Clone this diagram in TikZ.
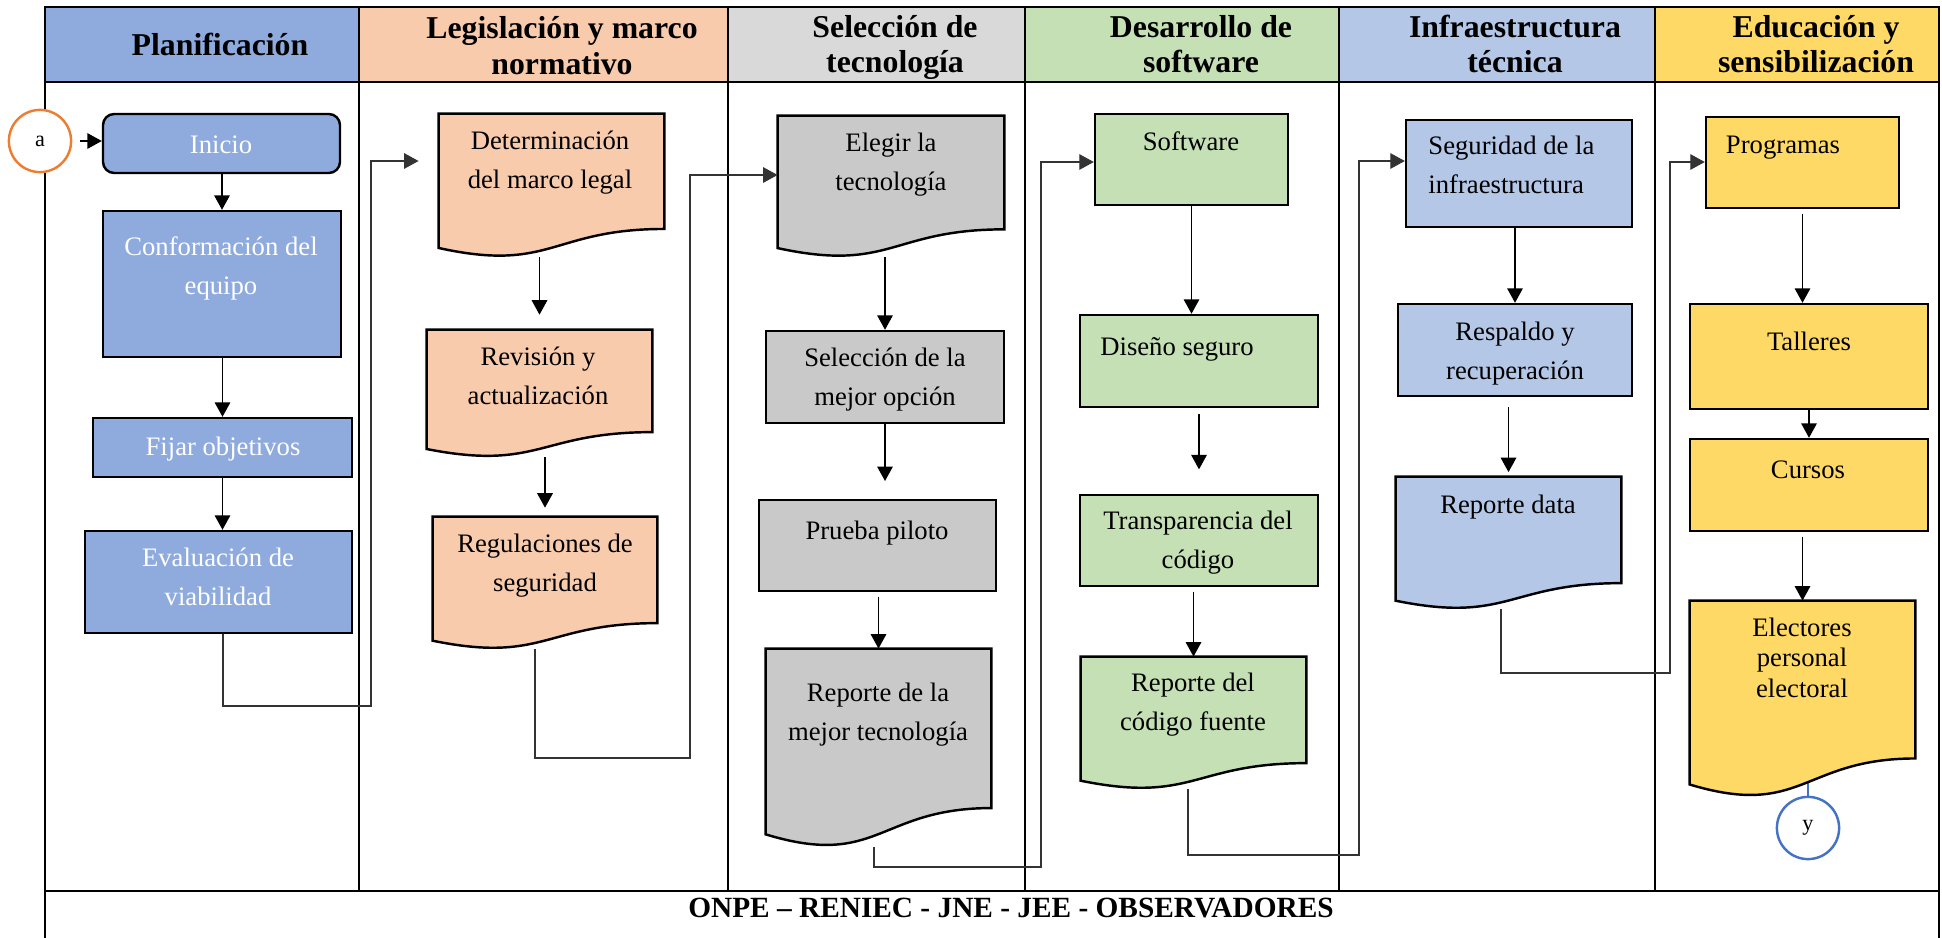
\documentclass[tikz,border=0pt]{standalone}
\usepackage{fontspec}
\setmainfont{Liberation Serif}
\usetikzlibrary{arrows.meta,calc,fit}

\definecolor{planblue}{HTML}{8FAADC}
\definecolor{legorange}{HTML}{F8CBAD}
\definecolor{selhead}{HTML}{D9D9D9}
\definecolor{selbox}{HTML}{C9C9C9}
\definecolor{devgreen}{HTML}{C5E0B4}
\definecolor{infrablue}{HTML}{B4C7E7}
\definecolor{eduyellow}{HTML}{FFD966}
\definecolor{conorange}{HTML}{ED7D31}
\definecolor{conblue}{HTML}{4472C4}

% document shape (wavy bottom) drawn over an empty fit node
\newcommand{\docshape}[2]{%
  \draw[line width=1.1pt, fill=#2] (#1.north west) -- (#1.north east)
    -- ($(#1.north east)!0.802!(#1.south east)$)
    .. controls ($(#1.north)!0.802!(#1.south)$) and ($(#1.north)!1.1075!(#1.south)$)
    .. ($(#1.north west)!0.934!(#1.south west)$) -- cycle;}

\begin{document}
\begin{tikzpicture}[x=0.45pt, y=-0.45pt,
    box/.style={draw, line width=1.1pt, inner sep=0pt},
    doc/.style={inner sep=0pt},
    txt/.style={font=\fontsize{12}{17.3}\selectfont, align=center, anchor=base, inner sep=0pt},
    head/.style={font=\fontsize{14.3}{16}\selectfont\bfseries, align=center, anchor=base, inner sep=0pt},
    arr/.style={-{Triangle[width=7pt,length=6.5pt]}, line width=0.6pt},
    link/.style={arr, line width=0.5pt, black!80},
    conn/.style={circle, draw, fill=white, line width=1.1pt, minimum size=28pt, inner sep=0pt, font=\fontsize{10}{12}\selectfont}]
    \useasboundingbox (0,0) rectangle (1942,938);

    % header cells
    \fill[planblue] (45,7) rectangle (359,82);
    \fill[legorange] (359,7) rectangle (728,82);
    \fill[selhead] (728,7) rectangle (1025,82);
    \fill[devgreen] (1025,7) rectangle (1339,82);
    \fill[infrablue] (1339,7) rectangle (1655,82);
    \fill[eduyellow] (1655,7) rectangle (1939,82);

    % lanes
    \draw[line width=1pt] (45,938) -- (45,7) -- (1939,7) -- (1939,938);
    \draw[line width=1pt] (45,82) -- (1939,82) (45,891) -- (1939,891);
    \foreach \x in {359,728,1025,1339,1655}
        \draw[line width=1pt] (\x,7) -- (\x,891);

    % (base = last line)
    \node[head] (h-plan) at (220,55) {Planificación};
    \node[head] (h-leg) at (562,74) {Legislación y marco\\normativo};
    \node[head] (h-sel) at (895,73) {Selección de\\tecnología};
    \node[head] (h-des) at (1201,73) {Desarrollo de\\software};
    \node[head] (h-inf) at (1515,73) {Infraestructura\\técnica};
    \node[head] (h-edu) at (1816,73) {Educación y\\sensibilización};
    \node[head, font=\fontsize{13.2}{15}\selectfont\bfseries] (actores) at (1011,917)
        {ONPE – RENIEC - JNE - JEE - OBSERVADORES};

    % boxes
    \node[box, fill=planblue, rounded corners=5pt, fit={(103,114) (340,173)}] (inicio) {};
    \node[box, fill=planblue, fit={(103,211) (341,357)}] (conform) {};
    \node[box, fill=planblue, fit={(93,418) (352,477)}] (objetivos) {};
    \node[box, fill=planblue, fit={(85,531) (352,633)}] (viabilidad) {};

    \node[doc, fit={(439,114) (664,257)}] (marcolegal) {};
    \node[doc, fit={(427,330) (652,457)}] (revision) {};
    \node[doc, fit={(433,517) (657,649)}] (regulacion) {};

    \node[doc, fit={(778,116) (1004,257)}] (elegir) {};
    \node[box, fill=selbox, fit={(766,331) (1004,423)}] (seleccion) {};
    \node[box, fill=selbox, fit={(759,500) (996,591)}] (piloto) {};
    \node[doc, fit={(766,649) (991,847)}] (reptec) {};

    \node[box, fill=devgreen, fit={(1095,114) (1288,205)}] (software) {};
    \node[box, fill=devgreen, fit={(1080,315) (1318,407)}] (diseno) {};
    \node[box, fill=devgreen, fit={(1080,495) (1318,586)}] (transparencia) {};
    \node[doc, fit={(1081,657) (1306,789)}] (repcodigo) {};

    \node[box, fill=infrablue, fit={(1406,120) (1632,227)}] (seguridad) {};
    \node[box, fill=infrablue, fit={(1398,304) (1632,396)}] (respaldo) {};
    \node[doc, fit={(1396,477) (1621,609)}] (repdata) {};

    \node[box, fill=eduyellow, fit={(1706,117) (1899,208)}] (programas) {};
    \node[box, fill=eduyellow, fit={(1690,304) (1928,409)}] (talleres) {};
    \node[box, fill=eduyellow, fit={(1690,439) (1928,531)}] (cursos) {};
    \node[doc, fit={(1690,601) (1915,797)}] (electores) {};

    \node[conn, draw=conorange] (a) at (40,141) {a};
    \node[conn, draw=conblue] (y) at (1808,828) {y};
    \draw[conblue, line width=1pt] (y.north |- electores.center) -- (y.north);

    \docshape{marcolegal}{legorange}
    \docshape{revision}{legorange}
    \docshape{regulacion}{legorange}
    \docshape{elegir}{selbox}
    \docshape{reptec}{selbox}
    \docshape{repcodigo}{devgreen}
    \docshape{repdata}{infrablue}
    \docshape{electores}{eduyellow}

    % texts (base = last line)
    \node[txt, text=white] (t-inicio) at (221,153) {Inicio};
    \node[txt, text=white] (t-conform) at (221,294) {Conformación del\\equipo};
    \node[txt, text=white] (t-objetivos) at (223,455) {Fijar objetivos};
    \node[txt, text=white] (t-viabilidad) at (218,605) {Evaluación de\\viabilidad};
    \node[txt] (t-marcolegal) at (550,188) {Determinación\\del marco legal};
    \node[txt] (t-revision) at (538,404) {Revisión y\\actualización};
    \node[txt] (t-regulacion) at (545,591) {Regulaciones de\\seguridad};
    \node[txt] (t-elegir) at (891,190) {Elegir la\\tecnología};
    \node[txt] (t-seleccion) at (885,405) {Selección de la\\mejor opción};
    \node[txt] (t-piloto) at (877,539) {Prueba piloto};
    \node[txt] (t-reptec) at (878,740) {Reporte de la\\mejor tecnología};
    \node[txt] (t-software) at (1191,150) {Software};
    \node[txt] (t-diseno) at (1177,355) {Diseño seguro};
    \node[txt] (t-transparencia) at (1198,568) {Transparencia del\\código};
    \node[txt] (t-repcodigo) at (1193,730) {Reporte del\\código fuente};
    \node[txt, anchor=base west, align=left] (t-seguridad) at (1428,193) {Seguridad de la\\infraestructura};
    \node[txt] (t-respaldo) at (1515,379) {Respaldo y\\recuperación};
    \node[txt] (t-repdata) at (1508,513) {Reporte data};
    \node[txt] (t-programas) at (1783,153) {Programas};
    \node[txt] (t-talleres) at (1809,350) {Talleres};
    \node[txt] (t-cursos) at (1808,478) {Cursos};
    \node[txt, font=\fontsize{12}{13.7}\selectfont] (t-electores) at (1802,697) {Electores\\personal\\electoral};

    % arrows inside the lanes
    \draw[arr, shorten <=3.6pt] (a.east) -- (a.east -| inicio.west);
    \draw[arr] (conform.north |- inicio.south) -- (conform.north);
    \draw[arr] (objetivos.north |- conform.south) -- (objetivos.north);
    \draw[arr] (objetivos.south) -- (objetivos.south |- viabilidad.north);
    \draw[arr, shorten >=6.7pt] (revision.north |- marcolegal.south) -- (revision.north);
    \draw[arr, shorten >=4pt] (regulacion.north |- revision.south) -- (regulacion.north);
    \draw[arr] (seleccion.north |- elegir.south) -- (seleccion.north);
    \draw[arr, shorten >=8pt] (seleccion.south) -- (seleccion.south |- piloto.north);
    \draw[arr, shorten <=2pt] (reptec.north |- piloto.south) -- (reptec.north);
    \draw[arr] (software.south) -- (software.south |- diseno.north);
    \draw[arr, shorten <=2.7pt, shorten >=11pt] (diseno.south) -- (diseno.south |- transparencia.north);
    \draw[arr, shorten <=2pt] (repcodigo.north |- transparencia.south) -- (repcodigo.north);
    \draw[arr] (respaldo.north |- seguridad.south) -- (respaldo.north);
    \draw[arr, shorten <=4.5pt, shorten >=2pt] (repdata.north |- respaldo.south) -- (repdata.north);
    \draw[arr, shorten <=2pt] (programas.south) -- (programas.south |- talleres.north);
    \draw[arr] (talleres.south) -- (talleres.south |- cursos.north);
    \draw[arr, shorten <=2pt] (electores.north |- cursos.south) -- (electores.north);

    % links between the lanes
    \coordinate (bend1a) at (223,706);
    \coordinate (bend1b) at (371,161);
    \coordinate (bend2a) at (535,758);
    \coordinate (bend2b) at (690,175);
    \coordinate (bend3a) at (874,867);
    \coordinate (bend3b) at (1041,162);
    \coordinate (bend4a) at (1188,855);
    \coordinate (bend4b) at (1359,161);
    \coordinate (bend5a) at (1501,673);
    \coordinate (bend5b) at (1670,162);
    \draw[link, shorten >=9pt] (viabilidad.south -| bend1a) -- (bend1a) -| (bend1b) -- (bend1b -| marcolegal.west);
    \draw[link] (regulacion.south -| bend2a) -- (bend2a) -| (bend2b) -- (bend2b -| elegir.west);
    \draw[link] (reptec.south -| bend3a) -- (bend3a) -| (bend3b) -- (bend3b -| software.west);
    \draw[link] (repcodigo.south -| bend4a) -- (bend4a) -| (bend4b) -- (bend4b -| seguridad.west);
    \draw[link] (repdata.south -| bend5a) -- (bend5a) -| (bend5b) -- (bend5b -| programas.west);
\end{tikzpicture}
\end{document}
